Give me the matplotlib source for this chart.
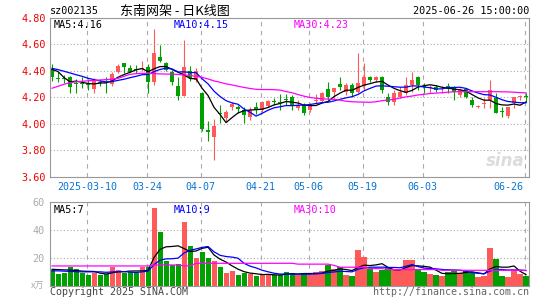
import matplotlib
matplotlib.use('Agg')
import matplotlib.pyplot as plt
import matplotlib.transforms as mtransforms
import numpy as np
import pandas as pd

plt.rcParams['font.family'] = ['DejaVu Sans Mono', 'Noto Sans CJK SC']

# daily candles, 2025-02-28 .. 2025-06-26 (80 trading days)
opens = [4.413, 4.347, 4.347, 4.352, 4.309, 4.309, 4.302, 4.266, 4.314, 4.316,
         4.299, 4.395, 4.458, 4.420, 4.412, 4.415, 4.430, 4.320, 4.508, 4.458,
         4.392, 4.288, 4.212, 4.400, 4.330, 4.232, 3.955, 3.905, 4.082, 4.048,
         4.126, 4.131, 4.106, 4.050, 4.131, 4.106, 4.136, 4.170, 4.163, 4.184,
         4.201, 4.118, 4.143, 4.106, 4.176, 4.176, 4.262, 4.244, 4.302, 4.244,
         4.294, 4.240, 4.284, 4.357, 4.332, 4.357, 4.206, 4.168, 4.206, 4.236,
         4.294, 4.357, 4.284, 4.270, 4.282, 4.268, 4.287, 4.270, 4.219, 4.262,
         4.181, 4.130, 4.154, 4.181, 4.194, 4.095, 4.060, 4.156, 4.204, 4.208]
highs = [4.453, 4.395, 4.370, 4.360, 4.337, 4.357, 4.337, 4.345, 4.337, 4.352,
         4.395, 4.453, 4.460, 4.445, 4.445, 4.475, 4.450, 4.716, 4.596, 4.470,
         4.407, 4.357, 4.634, 4.435, 4.420, 4.240, 4.022, 4.040, 4.143, 4.106,
         4.165, 4.143, 4.131, 4.131, 4.168, 4.170, 4.180, 4.194, 4.230, 4.230,
         4.219, 4.181, 4.156, 4.156, 4.230, 4.244, 4.320, 4.272, 4.352, 4.307,
         4.307, 4.535, 4.460, 4.362, 4.360, 4.362, 4.231, 4.257, 4.282, 4.357,
         4.395, 4.362, 4.307, 4.294, 4.294, 4.287, 4.307, 4.287, 4.269, 4.269,
         4.206, 4.143, 4.194, 4.332, 4.231, 4.131, 4.131, 4.206, 4.219, 4.231]
lows = [4.327, 4.320, 4.307, 4.234, 4.231, 4.269, 4.257, 4.236, 4.287, 4.236,
        4.289, 4.382, 4.382, 4.393, 4.382, 4.398, 4.237, 4.294, 4.470, 4.400,
        4.296, 4.179, 4.211, 4.325, 4.318, 3.945, 3.868, 3.728, 4.010, 4.018,
        4.106, 4.080, 4.010, 4.030, 4.075, 4.093, 4.130, 4.143, 4.106, 4.143,
        4.106, 4.106, 4.068, 4.093, 4.156, 4.169, 4.181, 4.194, 4.257, 4.219,
        4.206, 4.235, 4.257, 4.320, 4.320, 4.231, 4.143, 4.143, 4.194, 4.219,
        4.244, 4.257, 4.231, 4.231, 4.244, 4.231, 4.231, 4.181, 4.206, 4.194,
        4.131, 4.118, 4.118, 4.118, 4.080, 4.055, 4.043, 4.118, 4.181, 4.168]
closes = [4.352, 4.343, 4.343, 4.277, 4.305, 4.305, 4.298, 4.327, 4.310, 4.312,
          4.380, 4.437, 4.427, 4.395, 4.408, 4.425, 4.320, 4.536, 4.478, 4.410,
          4.318, 4.212, 4.433, 4.345, 4.398, 3.960, 3.937, 3.985, 4.078, 4.093,
          4.150, 4.111, 4.068, 4.106, 4.106, 4.168, 4.176, 4.166, 4.159, 4.180,
          4.143, 4.143, 4.085, 4.143, 4.184, 4.236, 4.201, 4.269, 4.277, 4.294,
          4.232, 4.307, 4.357, 4.332, 4.357, 4.257, 4.168, 4.231, 4.244, 4.294,
          4.332, 4.294, 4.280, 4.282, 4.257, 4.272, 4.262, 4.244, 4.257, 4.206,
          4.143, 4.135, 4.158, 4.257, 4.080, 4.091, 4.126, 4.201, 4.210, 4.204]
volumes = [11.2, 8.4, 9.2, 13.6, 11.7, 9.2, 7.6, 8.8, 7.6, 8.4,
           13.6, 11.2, 9.2, 9.9, 8.8, 13.6, 13.1, 55.7, 38.6, 17.9,
           14.8, 15.5, 45.7, 28.4, 19.5, 24.3, 19.5, 17.9, 13.6, 9.2,
           10.6, 7.6, 9.2, 8.4, 6.9, 7.6, 8.4, 7.6, 7.6, 9.9,
           9.2, 7.6, 9.2, 7.6, 9.9, 10.6, 14.8, 11.7, 13.1, 7.6,
           6.9, 25.5, 20.3, 11.7, 9.9, 11.2, 12.4, 11.7, 11.2, 18.4,
           18.4, 11.2, 9.9, 8.4, 7.6, 6.9, 9.9, 10.6, 9.2, 10.6,
           9.2, 6.2, 6.9, 27.1, 19.1, 6.9, 6.2, 11.2, 8.4, 6.9]

# moving-average values at the start (need days before the window)
ma5_head = [4.413, 4.395, 4.350, 4.318]
ma10_head = [4.420, 4.410, 4.398, 4.385, 4.372, 4.360, 4.345, 4.335, 4.325]
ma30 = [4.270, 4.285, 4.300, 4.312, 4.318, 4.322, 4.326, 4.329, 4.332, 4.335,
        4.338, 4.345, 4.360, 4.375, 4.380, 4.382, 4.382, 4.380, 4.378, 4.377,
        4.376, 4.374, 4.370, 4.366, 4.360, 4.352, 4.340, 4.325, 4.315, 4.303,
        4.295, 4.285, 4.276, 4.268, 4.262, 4.260, 4.260, 4.259, 4.256, 4.245,
        4.236, 4.222, 4.210, 4.200, 4.194, 4.190, 4.188, 4.186, 4.180, 4.172,
        4.168, 4.166, 4.165, 4.164, 4.168, 4.176, 4.181, 4.186, 4.196, 4.205,
        4.211, 4.219, 4.224, 4.230, 4.233, 4.236, 4.240, 4.243, 4.244, 4.244,
        4.244, 4.244, 4.244, 4.244, 4.244, 4.243, 4.242, 4.240, 4.237, 4.235]
vma5_head = [11.7, 11.5, 11.3, 11.2]
vma10_head = [10.6, 10.6, 10.4, 10.2, 10.0, 9.9, 9.9, 9.9, 9.9]
vma30 = [14.1] * 17 + [14.8] * 5 + [14.2] * 2 + [16.0] * 17 + [15.4] * 6 + \
        [14.5] + [13.2] * 5 + [12.2] * 3 + [11.5] * 9 + [11.0] * 8 + [11.0] * 7

tick_idx = [6, 16, 25, 35, 43, 52, 62, 79]
tick_labels = ['2025-03-10', '03-24', '04-07', '04-21', '05-06', '05-19', '06-03', '06-26']
price_ticks = [3.60, 3.80, 4.00, 4.20, 4.40, 4.60, 4.80]
vol_ticks = [20, 40, 60]

RED = '#ff5a5a'
GREEN = '#00a000'
GRID = '#aaaaaa'

x = np.arange(len(closes))
o = np.array(opens)
c = np.array(closes)
cols = [RED if c[i] >= o[i] else GREEN for i in range(len(c))]

ma5 = pd.Series(closes).rolling(5).mean().values
ma5[:4] = ma5_head
ma10 = pd.Series(closes).rolling(10).mean().values
ma10[:9] = ma10_head
vma5 = pd.Series(volumes).rolling(5).mean().values
vma5[:4] = vma5_head
vma10 = pd.Series(volumes).rolling(10).mean().values
vma10[:9] = vma10_head

W, H = 545, 300
fig = plt.figure(figsize=(W / 100, H / 100), dpi=100)
ax = fig.add_axes([50 / W, 1 - 177 / H, 479 / W, 159 / H])
vax = fig.add_axes([50 / W, 1 - 285.7 / H, 479 / W, 84 / H])

grid_x = [t - 0.2 for t in tick_idx]

# price panel
ax.vlines(x, lows, highs, colors=cols, lw=0.8, zorder=2)
body = np.maximum(np.abs(c - o), 0.006)
ax.bar(x, body, bottom=np.minimum(o, c), width=0.78, color=cols, lw=0, zorder=2)
ax.plot(x, ma5, color='black', lw=0.9, zorder=3)
ax.plot(x, ma10, color='#0000ff', lw=0.9, zorder=3)
ax.plot(x, ma30, color='#ff00ff', lw=0.9, zorder=3)
ax.set_xlim(-0.35, 79.5)
ax.set_ylim(3.60, 4.80)
ax.set_yticks(price_ticks)
ax.set_yticklabels(['%.2f' % t for t in price_ticks])
ax.tick_params(axis='y', length=0, pad=3, labelcolor='#ee0000', labelsize=7.3)
ax.set_xticks(grid_x)
ax.set_xticklabels([])
ax.tick_params(axis='x', length=0)
ax.grid(axis='y', color=GRID, ls=(0, (1, 2)), lw=0.8)
ax.grid(axis='x', color=GRID, ls=(0, (4, 4)), lw=0.8)
for s in ax.spines.values():
    s.set_color('#999999')

trans = mtransforms.blended_transform_factory(ax.transData, ax.transAxes)
for t, lab in zip(grid_x, tick_labels):
    if t == grid_x[-1]:
        ax.text(t - 0.3, -0.06, lab, transform=trans, ha='right', va='center',
                color='#0a74d0', fontsize=7.2)
    else:
        ax.text(t, -0.06, lab, transform=trans, ha='center', va='center',
                color='#0a74d0', fontsize=7.2)

ax.text(0.008, 0.955, 'MA5:4.16', transform=ax.transAxes, fontsize=7.3,
        color='black', va='center')
ax.text(0.259, 0.955, 'MA10:4.15', transform=ax.transAxes, fontsize=7.3,
        color='#0000ff', va='center')
ax.text(0.509, 0.955, 'MA30:4.23', transform=ax.transAxes, fontsize=7.3,
        color='#ff00ff', va='center')
ax.text(0.99, 0.1, 'sina', transform=ax.transAxes, fontsize=12, color='#dcdcdc',
        ha='right', va='center', style='italic', fontweight='bold', family='DejaVu Sans')

# volume panel
vax.bar(x, volumes, width=0.85, color=cols, lw=0, zorder=2)
vax.plot(x, vma5, color='black', lw=0.9, zorder=3)
vax.plot(x, vma10, color='#0000ff', lw=0.9, zorder=3)
vax.plot(x, vma30, color='#ff00ff', lw=0.9, zorder=3)
vax.set_xlim(-0.35, 79.5)
vax.set_ylim(0, 60)
vax.set_yticks(vol_ticks)
vax.set_yticklabels([str(v) for v in vol_ticks])
vax.tick_params(axis='y', length=0, pad=4, labelcolor='#aaaaaa', labelsize=7.3)
vax.set_xticks(grid_x)
vax.set_xticklabels([])
vax.tick_params(axis='x', length=0)
vax.grid(axis='y', color=GRID, ls=(0, (1, 2)), lw=0.8)
vax.grid(axis='x', color=GRID, ls=(0, (4, 4)), lw=0.8)
for s in vax.spines.values():
    s.set_color('#999999')
vax.text(0.008, 0.9, 'MA5:7', transform=vax.transAxes, fontsize=7.3, color='black', va='center')
vax.text(0.259, 0.9, 'MA10:9', transform=vax.transAxes, fontsize=7.3, color='#0000ff', va='center')
vax.text(0.509, 0.9, 'MA30:10', transform=vax.transAxes, fontsize=7.3, color='#ff00ff', va='center')

# header / footer texts
fig.text(50 / W, 1 - 11 / H, 'sz002135', fontsize=7.3, va='center', color='black')
fig.text(120 / W, 1 - 11 / H, '东南网架 - 日K线图', fontsize=9.4, va='center', color='black',
         family=['Noto Sans CJK SC', 'DejaVu Sans'])
fig.text(529 / W, 1 - 11 / H, '2025-06-26 15:00:00', fontsize=7.3, va='center', ha='right',
         color='black')
fig.text(44 / W, 1 - 286 / H, 'x万', fontsize=6.5, va='center', ha='right', color='#aaaaaa',
         family=['Noto Sans CJK SC', 'DejaVu Sans'])
fig.text(50 / W, 1 - 292 / H, 'Copyright 2025 SINA.COM', fontsize=7.2, va='center', color='#444444')
fig.text(529 / W, 1 - 292 / H, 'http://finance.sina.com.cn', fontsize=7.2, va='center', ha='right',
         color='#666666')

fig.savefig('out.png', dpi=100)
